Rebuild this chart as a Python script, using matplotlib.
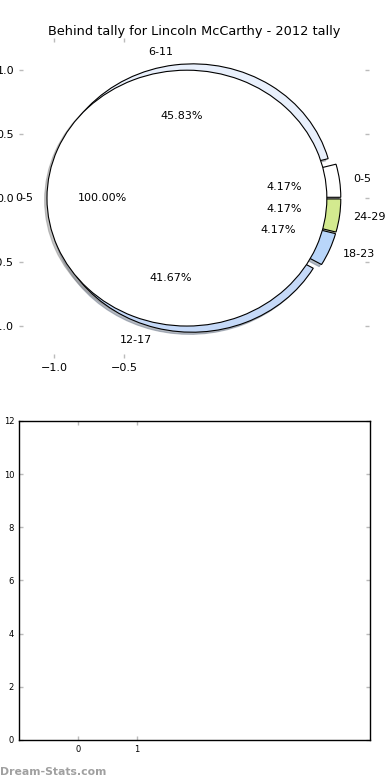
import matplotlib
matplotlib.use("Agg")
from matplotlib import pyplot as plt

# outer ring: behind tally buckets
outer_labels = ["0-5", "6-11", "12-17", "18-23", "24-29"]
outer_values = [1, 11, 10, 1, 1]
outer_colors = ["#ffffff", "#e9f0fc", "#c5d9f8", "#b9d6fa", "#d3ea8f"]

# inner pie
inner_labels = ["0-5"]
inner_values = [1]
inner_colors = ["#ffffff"]

bar_yticks = [0, 2, 4, 6, 8, 10, 12]
bar_xticks = [0, 1]

plt.rcParams["font.family"] = ["DejaVu Sans"]

fig = plt.figure(figsize=(3.9, 7.8), dpi=100)

ax = fig.add_axes([0.0487, 0.541, 0.897, 0.410])
wedge_kw = {"edgecolor": "black", "linewidth": 0.8}
shadow_kw = {"ox": -0.012, "oy": -0.012, "shade": 0.45}
ax.pie(outer_values, labels=outer_labels, colors=outer_colors,
       autopct="%.2f%%", explode=[0.05] * len(outer_values), shadow=shadow_kw,
       radius=1.0, pctdistance=0.6, labeldistance=1.1,
       wedgeprops=wedge_kw, textprops={"fontsize": 8}, frame=True)
ax.pie(inner_values, labels=inner_labels, colors=inner_colors,
       autopct="%.2f%%", explode=[0.05], shadow=shadow_kw,
       radius=1.0, pctdistance=0.6, labeldistance=1.1,
       wedgeprops=wedge_kw, textprops={"fontsize": 8}, frame=True)
for t in ax.texts:
    x, _ = t.get_position()
    if t.get_text() in outer_labels:
        t.set_ha("left" if x > 0 else "right")
ax.set_aspect("auto")
ax.set_xlim(-1.25, 1.25)
ax.set_ylim(-1.25, 1.25)
ax.set_xticks([-1.0, -0.5])
ax.set_xticklabels(["\u22121.0", "\u22120.5"])
ax.set_yticks([-1.0, -0.5, 0.0, 0.5, 1.0])
for s in ax.spines.values():
    s.set_visible(False)
ax.tick_params(direction="in", color="#bbbbbb", length=3, width=1,
               labelsize=8, top=True, right=True)
ax.set_title("Behind tally for Lincoln McCarthy - 2012 tally",
             fontsize=9.3, pad=2)

ax2 = fig.add_axes([0.0487, 0.0513, 0.9, 0.409])
ax2.set_xlim(-1.0, 4.95)
ax2.set_ylim(0, 12)
ax2.set_yticks(bar_yticks)
ax2.set_xticks(bar_xticks)
ax2.tick_params(direction="in", color="#bbbbbb", length=3, width=1,
                labelsize=6, top=True, right=True)
for s in ax2.spines.values():
    s.set_linewidth(1.0)

fig.text(0.0, 0.004, "Dream-Stats.com", fontsize=7.8, color="#a0a0a0",
         fontweight="semibold", ha="left", va="bottom")

fig.savefig("out.png", dpi=100)
